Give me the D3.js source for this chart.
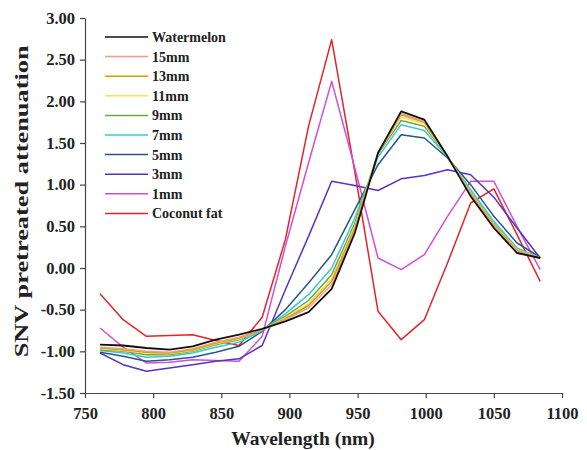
<!DOCTYPE html>
<html>
<head>
<meta charset="utf-8">
<script src="https://cdn.jsdelivr.net/npm/d3@7"></script>
<style>
  body { margin: 0; background: #fff; }
  .axis text { font-family: "Liberation Serif", "Times New Roman", serif; font-weight: bold; font-size: 16.5px; fill: #222; }
  .axis path, .axis line { stroke: #444; stroke-width: 1.2px; }
  .legend text { font-family: "Liberation Serif", "Times New Roman", serif; font-weight: bold; font-size: 14px; fill: #222; }
  .title { font-family: "Liberation Serif", "Times New Roman", serif; font-weight: bold; fill: #222; }
</style>
</head>
<body>
<div id="chart"></div>
<script>
const wavelengths = [761, 778, 795, 812, 829, 846, 863, 880, 897, 914, 931, 948, 965, 982, 999, 1016, 1033, 1050, 1067, 1084];

const watermelon = [-0.92, -0.93, -0.96, -0.98, -0.94, -0.86, -0.80, -0.73, -0.64, -0.53, -0.25, 0.42, 1.38, 1.88, 1.78, 1.34, 0.86, 0.48, 0.18, 0.12];
const mm15 = [-0.95, -0.97, -1.00, -1.01, -0.97, -0.89, -0.83, -0.74, -0.62, -0.48, -0.20, 0.45, 1.38, 1.85, 1.76, 1.34, 0.88, 0.50, 0.20, 0.12];
const mm13 = [-0.96, -0.98, -1.01, -1.02, -0.98, -0.90, -0.84, -0.74, -0.61, -0.45, -0.16, 0.48, 1.38, 1.84, 1.75, 1.34, 0.89, 0.51, 0.21, 0.12];
const mm11 = [-0.97, -0.99, -1.02, -1.03, -0.99, -0.91, -0.85, -0.74, -0.60, -0.43, -0.13, 0.50, 1.38, 1.81, 1.73, 1.34, 0.90, 0.52, 0.22, 0.12];
const mm9 = [-0.98, -1.00, -1.04, -1.04, -1.00, -0.92, -0.86, -0.74, -0.58, -0.39, -0.08, 0.54, 1.37, 1.77, 1.70, 1.34, 0.91, 0.53, 0.22, 0.12];
const mm7 = [-0.99, -1.02, -1.07, -1.06, -1.02, -0.95, -0.89, -0.75, -0.55, -0.32, 0.00, 0.60, 1.33, 1.72, 1.65, 1.33, 0.94, 0.56, 0.24, 0.12];
const mm5 = [-1.01, -1.06, -1.12, -1.10, -1.07, -1.01, -0.94, -0.76, -0.50, -0.18, 0.16, 0.70, 1.24, 1.60, 1.56, 1.32, 1.00, 0.62, 0.30, 0.13];
const mm3 = [-1.02, -1.16, -1.24, -1.20, -1.16, -1.12, -1.09, -0.93, -0.26, 0.38, 1.04, 0.99, 0.93, 1.07, 1.11, 1.18, 1.12, 0.85, 0.48, 0.12];
const mm1 = [-0.72, -0.95, -1.14, -1.13, -1.10, -1.11, -1.12, -0.82, 0.26, 1.26, 2.24, 1.20, 0.12, -0.02, 0.16, 0.62, 1.04, 1.04, 0.50, -0.02];
const coconutFat = [-0.31, -0.62, -0.82, -0.81, -0.80, -0.87, -0.93, -0.59, 0.34, 1.70, 2.74, 1.15, -0.52, -0.86, -0.62, 0.06, 0.78, 0.95, 0.40, -0.16];

const seriesNames = ["Watermelon", "15mm", "13mm", "11mm", "9mm", "7mm", "5mm", "3mm", "1mm", "Coconut fat"];
const seriesValues = [watermelon, mm15, mm13, mm11, mm9, mm7, mm5, mm3, mm1, coconutFat];
const seriesColors = ["#111111", "#f59c86", "#c4a20a", "#f7e35a", "#6aa84f", "#3cc8c8", "#24568f", "#5533c4", "#d24fd2", "#e5232b"];

const xTicks = [750, 800, 850, 900, 950, 1000, 1050, 1100];
const yTicks = [-1.5, -1.0, -0.5, 0.0, 0.5, 1.0, 1.5, 2.0, 2.5, 3.0];

const el = document.getElementById("chart");
const containerWidth = 587, containerHeight = 450;
const svg = d3.select(el).append("svg").attr("width", containerWidth).attr("height", containerHeight);

const margin = { top: 18, right: 25, bottom: 57, left: 85 };
const width = containerWidth - margin.left - margin.right;
const height = containerHeight - margin.top - margin.bottom;

const x = d3.scaleLinear().domain([750, 1100]).range([0, width]);
const y = d3.scaleLinear().domain([-1.5, 3]).range([height, 0]);

const g = svg.append("g")
  .attr("transform", "translate(" + margin.left + "," + margin.top + ")");

g.append("g")
  .attr("class", "axis axis--x")
  .attr("transform", "translate(0," + height + ")")
  .call(d3.axisBottom(x).tickValues(xTicks).tickSize(5).tickSizeOuter(0).tickFormat(d => d))
  .selectAll("text").attr("dy", "1.1em");

g.append("g")
  .attr("class", "axis axis--y")
  .call(d3.axisLeft(y).tickValues(yTicks).tickSize(5).tickSizeOuter(0).tickFormat(d => d.toFixed(2)))
  .selectAll("text").attr("x", -10);

svg.append("text")
  .attr("class", "title")
  .attr("x", margin.left + x(910))
  .attr("y", 445)
  .attr("text-anchor", "middle")
  .style("font-size", "19.5px")
  .text("Wavelength (nm)");

svg.append("text")
  .attr("class", "title")
  .attr("transform", "translate(28," + (margin.top + y(0.8)) + ") rotate(-90)")
  .attr("text-anchor", "middle")
  .attr("textLength", 312)
  .attr("lengthAdjust", "spacingAndGlyphs")
  .style("font-size", "19.5px")
  .text("SNV pretreated attenuation");

const line = d3.line()
  .x((d, i) => x(wavelengths[i]))
  .y(d => y(d));

// draw back to front so the black watermelon line stays on top
const order = d3.range(seriesNames.length).reverse();
g.selectAll(".series")
  .data(order)
  .enter().append("path")
  .attr("class", "series")
  .attr("fill", "none")
  .attr("stroke", i => seriesColors[i])
  .attr("stroke-width", i => i === 0 ? 1.8 : 1.5)
  .attr("stroke-linejoin", "round")
  .attr("d", i => line(seriesValues[i]));

const legend = svg.append("g").attr("class", "legend")
  .attr("transform", "translate(105,37)");

const row = legend.selectAll("g")
  .data(seriesNames)
  .enter().append("g")
  .attr("transform", (d, i) => "translate(0," + i * 19.6 + ")");

row.append("line")
  .attr("x1", 0).attr("x2", 43)
  .attr("stroke", (d, i) => seriesColors[i])
  .attr("stroke-width", 1.5);

row.append("text")
  .attr("x", 47)
  .attr("dy", "0.35em")
  .text(d => d);
</script>
</body>
</html>
